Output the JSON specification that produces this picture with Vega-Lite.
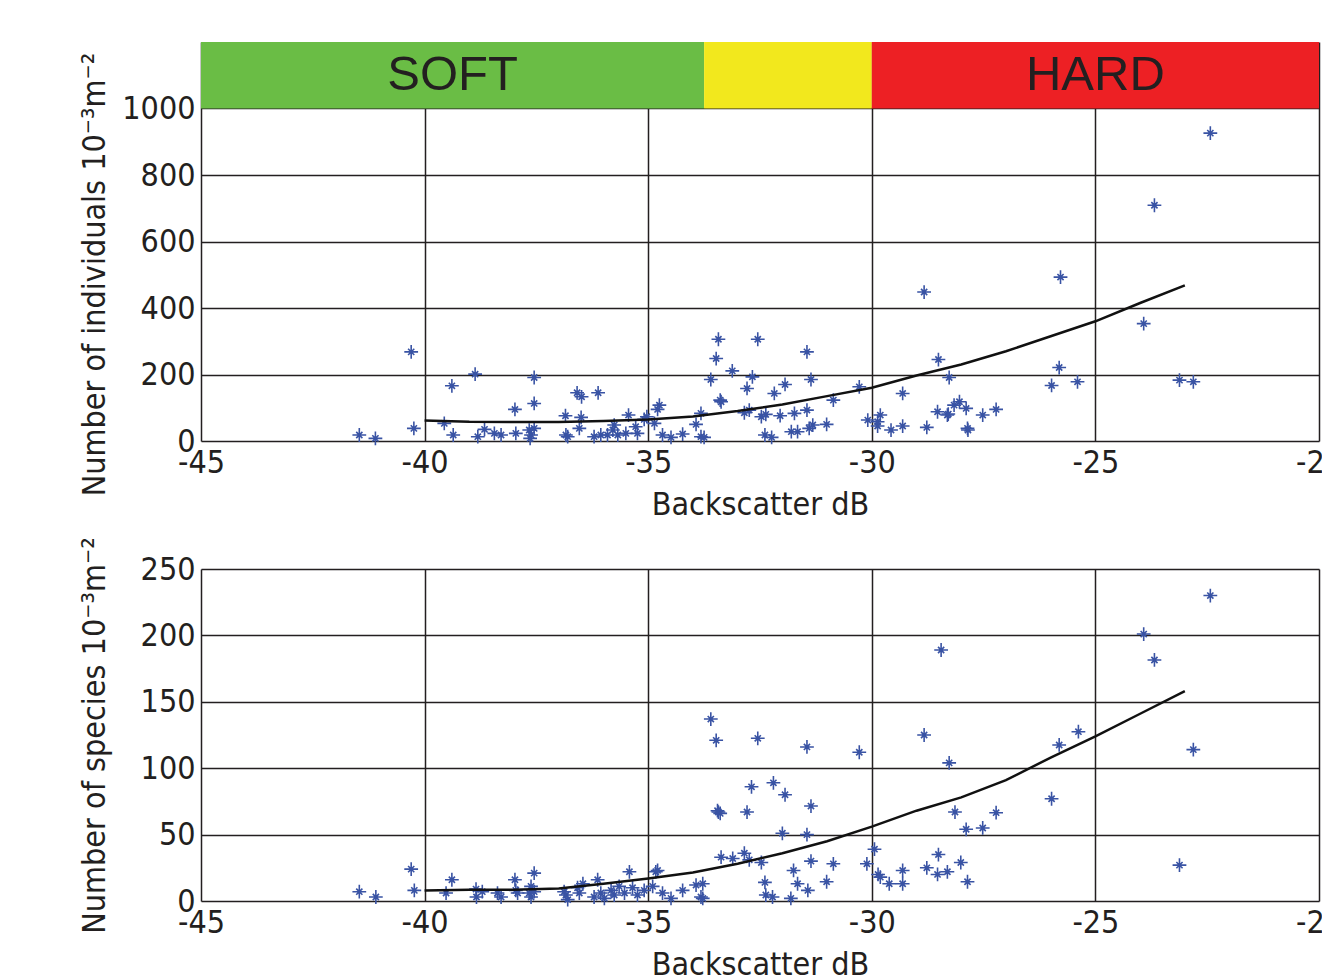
{
  "$schema": "https://vega.github.io/schema/vega-lite/v6.json",
  "padding": {"left": 77, "top": 42, "right": 0, "bottom": 0},
  "background": "white",
  "datasets": {
    "bands": [
      {"zone": "SOFT", "from": -45, "to": -33.75, "label": "SOFT"},
      {"zone": "MID", "from": -33.75, "to": -30, "label": ""},
      {"zone": "HARD", "from": -30, "to": -20, "label": "HARD"}
    ],
    "ind": [
      {"x": -40.30, "y": 268}, {"x": -38.87, "y": 201}, {"x": -37.55, "y": 191}, {"x": -39.39, "y": 166},
      {"x": -36.59, "y": 145}, {"x": -36.49, "y": 133}, {"x": -36.12, "y": 145}, {"x": -37.55, "y": 113},
      {"x": -37.98, "y": 95}, {"x": -36.85, "y": 76}, {"x": -36.50, "y": 71}, {"x": -35.44, "y": 78},
      {"x": -35.03, "y": 73}, {"x": -39.56, "y": 53}, {"x": -40.24, "y": 38}, {"x": -41.46, "y": 18},
      {"x": -41.10, "y": 8}, {"x": -39.36, "y": 18}, {"x": -38.81, "y": 13}, {"x": -38.66, "y": 35},
      {"x": -38.44, "y": 23}, {"x": -38.29, "y": 18}, {"x": -37.96, "y": 23}, {"x": -37.66, "y": 33},
      {"x": -37.62, "y": 18}, {"x": -37.64, "y": 8}, {"x": -37.55, "y": 38}, {"x": -36.84, "y": 18},
      {"x": -36.80, "y": 13}, {"x": -36.54, "y": 38}, {"x": -36.21, "y": 13}, {"x": -36.06, "y": 18},
      {"x": -35.91, "y": 18}, {"x": -35.76, "y": 48}, {"x": -35.79, "y": 33}, {"x": -35.68, "y": 18},
      {"x": -35.50, "y": 23}, {"x": -35.28, "y": 43}, {"x": -35.24, "y": 23}, {"x": -34.86, "y": 53},
      {"x": -34.79, "y": 95}, {"x": -35.09, "y": 65}, {"x": -34.75, "y": 108}, {"x": -34.68, "y": 18},
      {"x": -34.49, "y": 11}, {"x": -34.23, "y": 21}, {"x": -33.93, "y": 50}, {"x": -33.82, "y": 83},
      {"x": -33.82, "y": 13}, {"x": -33.75, "y": 11}, {"x": -33.43, "y": 306}, {"x": -33.48, "y": 248},
      {"x": -33.60, "y": 185}, {"x": -33.39, "y": 123}, {"x": -33.37, "y": 118}, {"x": -33.12, "y": 211},
      {"x": -32.55, "y": 306}, {"x": -32.67, "y": 193}, {"x": -32.79, "y": 158}, {"x": -32.85, "y": 85},
      {"x": -32.74, "y": 93}, {"x": -32.47, "y": 73}, {"x": -32.37, "y": 80}, {"x": -32.39, "y": 18},
      {"x": -32.24, "y": 11}, {"x": -32.18, "y": 143}, {"x": -31.94, "y": 170}, {"x": -32.05, "y": 76},
      {"x": -31.80, "y": 28}, {"x": -31.66, "y": 28}, {"x": -31.73, "y": 83}, {"x": -31.45, "y": 268},
      {"x": -31.36, "y": 185}, {"x": -31.45, "y": 93}, {"x": -31.40, "y": 38}, {"x": -31.32, "y": 48},
      {"x": -31.01, "y": 50}, {"x": -30.86, "y": 123}, {"x": -30.28, "y": 163}, {"x": -30.09, "y": 63},
      {"x": -29.87, "y": 58}, {"x": -29.81, "y": 78}, {"x": -29.87, "y": 45}, {"x": -29.57, "y": 33},
      {"x": -29.31, "y": 45}, {"x": -29.31, "y": 143}, {"x": -28.77, "y": 41}, {"x": -28.51, "y": 245},
      {"x": -28.27, "y": 191}, {"x": -28.53, "y": 88}, {"x": -28.31, "y": 78}, {"x": -28.16, "y": 108},
      {"x": -28.04, "y": 118}, {"x": -27.89, "y": 98}, {"x": -27.86, "y": 38}, {"x": -22.43, "y": 926},
      {"x": -23.68, "y": 709}, {"x": -25.78, "y": 493}, {"x": -28.83, "y": 448}, {"x": -23.92, "y": 353},
      {"x": -25.81, "y": 221}, {"x": -25.98, "y": 167}, {"x": -25.40, "y": 178}, {"x": -23.12, "y": 183},
      {"x": -22.81, "y": 178}, {"x": -27.22, "y": 95}, {"x": -27.52, "y": 78}, {"x": -28.29, "y": 81},
      {"x": -27.85, "y": 33}
    ],
    "indfit": [
      {"x": -40, "y": 62}, {"x": -39, "y": 58}, {"x": -38, "y": 57}, {"x": -37, "y": 57}, {"x": -36, "y": 60},
      {"x": -35, "y": 65}, {"x": -34, "y": 74}, {"x": -33, "y": 90}, {"x": -32, "y": 110}, {"x": -31, "y": 135},
      {"x": -30, "y": 160}, {"x": -29, "y": 197}, {"x": -28, "y": 230}, {"x": -27, "y": 270}, {"x": -26, "y": 315},
      {"x": -25, "y": 360}, {"x": -24, "y": 415}, {"x": -23, "y": 468}
    ],
    "spe": [
      {"x": -40.30, "y": 24}, {"x": -40.23, "y": 8}, {"x": -41.46, "y": 7}, {"x": -41.09, "y": 3},
      {"x": -39.39, "y": 16}, {"x": -39.52, "y": 6}, {"x": -38.85, "y": 9}, {"x": -38.71, "y": 7},
      {"x": -38.84, "y": 3}, {"x": -38.37, "y": 6}, {"x": -38.29, "y": 3}, {"x": -37.98, "y": 16},
      {"x": -37.55, "y": 21}, {"x": -37.96, "y": 8}, {"x": -37.92, "y": 6}, {"x": -37.62, "y": 11},
      {"x": -37.66, "y": 6}, {"x": -37.62, "y": 3}, {"x": -37.55, "y": 7}, {"x": -36.84, "y": 4.5},
      {"x": -36.80, "y": 1}, {"x": -36.88, "y": 7}, {"x": -36.58, "y": 10}, {"x": -36.46, "y": 13},
      {"x": -36.54, "y": 6}, {"x": -36.13, "y": 16}, {"x": -36.21, "y": 3}, {"x": -36.06, "y": 6},
      {"x": -35.98, "y": 2}, {"x": -35.83, "y": 8}, {"x": -35.76, "y": 4.5}, {"x": -35.65, "y": 11},
      {"x": -35.53, "y": 6}, {"x": -35.42, "y": 22}, {"x": -35.35, "y": 10}, {"x": -35.24, "y": 4.5},
      {"x": -35.09, "y": 8}, {"x": -34.83, "y": 22}, {"x": -34.90, "y": 11},
      {"x": -33.60, "y": 137}, {"x": -33.48, "y": 121}, {"x": -32.55, "y": 122.5}, {"x": -31.45, "y": 116},
      {"x": -30.28, "y": 112}, {"x": -28.83, "y": 125}, {"x": -28.27, "y": 104}, {"x": -32.69, "y": 86},
      {"x": -32.20, "y": 89}, {"x": -31.94, "y": 80}, {"x": -31.36, "y": 71.5}, {"x": -33.43, "y": 67},
      {"x": -33.39, "y": 66}, {"x": -33.45, "y": 68}, {"x": -32.79, "y": 67}, {"x": -32.00, "y": 51},
      {"x": -31.45, "y": 50}, {"x": -28.14, "y": 67}, {"x": -27.89, "y": 54}, {"x": -33.37, "y": 33},
      {"x": -33.11, "y": 32}, {"x": -32.85, "y": 36}, {"x": -32.74, "y": 31}, {"x": -32.47, "y": 29},
      {"x": -34.79, "y": 23}, {"x": -34.68, "y": 6}, {"x": -34.49, "y": 2}, {"x": -34.23, "y": 8},
      {"x": -33.93, "y": 12}, {"x": -33.78, "y": 13}, {"x": -33.82, "y": 3}, {"x": -33.78, "y": 2},
      {"x": -32.39, "y": 14}, {"x": -32.37, "y": 4.5}, {"x": -32.22, "y": 3}, {"x": -31.81, "y": 2},
      {"x": -31.75, "y": 23}, {"x": -31.66, "y": 13}, {"x": -31.43, "y": 8}, {"x": -31.36, "y": 30},
      {"x": -31.01, "y": 14.5}, {"x": -30.86, "y": 28}, {"x": -30.11, "y": 28}, {"x": -29.94, "y": 39},
      {"x": -29.86, "y": 20}, {"x": -29.81, "y": 18}, {"x": -29.61, "y": 13}, {"x": -29.31, "y": 13},
      {"x": -29.31, "y": 23}, {"x": -28.77, "y": 25}, {"x": -28.51, "y": 35}, {"x": -28.53, "y": 20},
      {"x": -28.31, "y": 22}, {"x": -28.01, "y": 29}, {"x": -27.86, "y": 14.5},
      {"x": -22.43, "y": 230}, {"x": -23.92, "y": 201}, {"x": -23.68, "y": 181.5}, {"x": -28.45, "y": 189},
      {"x": -25.38, "y": 127.5}, {"x": -25.81, "y": 117.5}, {"x": -22.81, "y": 114}, {"x": -25.98, "y": 77},
      {"x": -27.22, "y": 66.5}, {"x": -27.52, "y": 55}, {"x": -23.12, "y": 27}
    ],
    "spefit": [
      {"x": -40, "y": 8}, {"x": -39, "y": 8.5}, {"x": -38, "y": 8.5}, {"x": -37, "y": 9.5}, {"x": -36, "y": 13},
      {"x": -35, "y": 17}, {"x": -34, "y": 21.5}, {"x": -33, "y": 28}, {"x": -32, "y": 36}, {"x": -31, "y": 45},
      {"x": -30, "y": 56}, {"x": -29, "y": 68}, {"x": -28, "y": 78}, {"x": -27, "y": 91}, {"x": -26, "y": 108},
      {"x": -25, "y": 124}, {"x": -24, "y": 141}, {"x": -23, "y": 158}
    ]
  },
  "vconcat": [
    {
      "width": 1118,
      "height": 399,
      "layer": [
        {
          "data": {"name": "bands"},
          "mark": {"type": "rect"},
          "encoding": {
            "x": {"field": "from", "type": "quantitative",
              "scale": {"domain": [-45, -20], "nice": false, "zero": false},
              "axis": {"values": [-45, -40, -35, -30, -25, -20], "title": "Backscatter dB"}},
            "x2": {"field": "to"},
            "y": {"datum": 1000, "type": "quantitative",
              "scale": {"domain": [0, 1200], "nice": false},
              "axis": {"values": [0, 200, 400, 600, 800, 1000], "title": "Number of individuals 10⁻³m⁻²", "titleY": 232}},
            "y2": {"datum": 1200},
            "color": {"field": "zone", "type": "nominal",
              "scale": {"domain": ["SOFT", "MID", "HARD"], "range": ["#6abd45", "#f2e81d", "#ed2024"]},
              "legend": null}
          }
        },
        {
          "data": {"name": "bands"},
          "transform": [{"filter": "datum.label != ''"}, {"calculate": "(datum.from + datum.to) / 2", "as": "mid"}],
          "mark": {"type": "text", "font": "Liberation Sans", "fontSize": 49, "color": "#231f20", "baseline": "middle", "align": "center"},
          "encoding": {
            "x": {"field": "mid", "type": "quantitative"},
            "y": {"datum": 1100, "type": "quantitative"},
            "text": {"field": "label"}
          }
        },
        {
          "data": {"name": "ind"},
          "mark": {"type": "point", "shape": "M-1,0L1,0M0,-1L0,1M-0.45,-0.45L0.45,0.45M-0.45,0.45L0.45,-0.45", "filled": false, "size": 190, "strokeWidth": 1.6, "color": "#3953a4", "opacity": 1},
          "encoding": {
            "x": {"field": "x", "type": "quantitative"},
            "y": {"field": "y", "type": "quantitative"}
          }
        },
        {
          "data": {"name": "indfit"},
          "mark": {"type": "line", "color": "#111111", "strokeWidth": 2.5},
          "encoding": {
            "x": {"field": "x", "type": "quantitative"},
            "y": {"field": "y", "type": "quantitative"}
          }
        }
      ]
    },
    {
      "width": 1118,
      "height": 332,
      "layer": [
        {
          "data": {"name": "spe"},
          "mark": {"type": "point", "shape": "M-1,0L1,0M0,-1L0,1M-0.45,-0.45L0.45,0.45M-0.45,0.45L0.45,-0.45", "filled": false, "size": 190, "strokeWidth": 1.6, "color": "#3953a4", "opacity": 1},
          "encoding": {
            "x": {"field": "x", "type": "quantitative",
              "scale": {"domain": [-45, -20], "nice": false, "zero": false},
              "axis": {"values": [-45, -40, -35, -30, -25, -20], "title": "Backscatter dB"}},
            "y": {"field": "y", "type": "quantitative",
              "scale": {"domain": [0, 250], "nice": false},
              "axis": {"values": [0, 50, 100, 150, 200, 250], "title": "Number of species 10⁻³m⁻²"}}
          }
        },
        {
          "data": {"name": "spefit"},
          "mark": {"type": "line", "color": "#111111", "strokeWidth": 2.5},
          "encoding": {
            "x": {"field": "x", "type": "quantitative"},
            "y": {"field": "y", "type": "quantitative"}
          }
        }
      ]
    }
  ],
  "spacing": 128,
  "bounds": "flush",
  "config": {
    "font": "DejaVu Sans Condensed, sans-serif",
    "view": {"stroke": null},
    "axis": {
      "grid": true,
      "gridColor": "#231f20",
      "gridWidth": 1.5,
      "gridOpacity": 1,
      "ticks": false,
      "domain": false,
      "labelFlush": false,
      "labelOverlap": false,
      "labelExpr": "datum.value < 0 ? '-' + abs(datum.value) : '' + datum.value",
      "labelFont": "DejaVu Sans Condensed, sans-serif",
      "labelFontSize": 32,
      "labelColor": "#231f20",
      "labelPadding": 6,
      "titleFont": "DejaVu Sans Condensed, sans-serif",
      "titleFontSize": 32,
      "titleFontWeight": "normal",
      "titleColor": "#231f20",
      "titlePadding": 11
    },
    "axisY": {
      "titleX": -97,
      "titleBaseline": "alphabetic"
    }
  }
}
